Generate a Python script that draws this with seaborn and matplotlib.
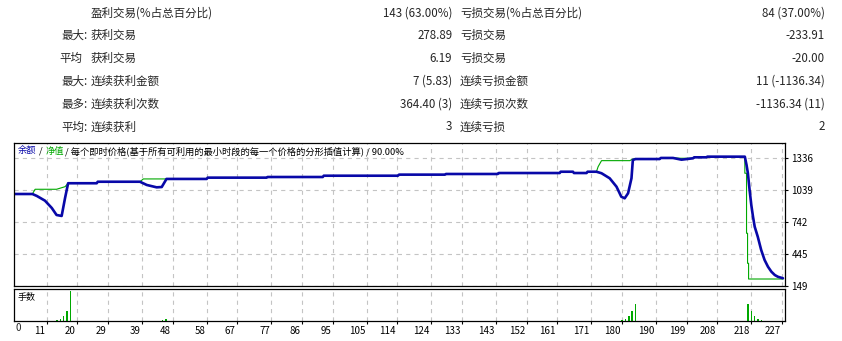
import matplotlib
matplotlib.use("Agg")
import matplotlib.pyplot as plt
import seaborn as sns
from matplotlib.transforms import ScaledTranslation

# ---------------- data ----------------
balance_x = [1.5, 6.8, 8.1, 10.5, 12.5, 13.9, 15.4, 16.4, 17.3, 25.7, 26.0, 38.4, 40.4, 43.3, 44.8,
             46.2, 58.0, 58.3, 75.6, 75.9, 92.1, 92.4, 114.2, 114.5, 128.0, 128.3, 143.5, 143.8,
             161.7, 162.0, 165.6, 165.9, 169.6, 169.9, 172.5, 174.0, 176.4, 178.4, 179.8, 180.8,
             181.8, 182.8, 183.2, 184.0, 191.1, 191.4, 195.0, 197.5, 200.9, 201.2, 204.8, 205.1,
             216.1, 216.6, 217.0, 217.5, 218.0, 218.5, 219.0, 219.9, 220.9, 221.9, 222.9, 223.9,
             224.9, 225.8, 227.3]
balance_y = [1004, 1004, 986, 942, 874, 809, 800, 967, 1104, 1104, 1118, 1118, 1088, 1066, 1069,
             1144, 1144, 1156, 1156, 1162, 1162, 1174, 1174, 1184, 1184, 1190, 1190, 1199,
             1199, 1211, 1211, 1199, 1199, 1211, 1211, 1197, 1150, 1072, 979, 964,
             1011, 1150, 1320, 1329, 1329, 1339, 1339, 1323, 1336, 1345, 1345, 1351,
             1351, 1274, 1197, 1041, 902, 793, 700, 607, 484, 391, 328, 282,
             251, 235, 221]

equity_x = [1.5, 6.8, 7.6, 13.9, 16.4, 17.3, 25.7, 26.0, 38.4, 39.4, 46.2, 58.0, 58.3, 75.6, 75.9,
            92.1, 92.4, 114.2, 114.5, 128.0, 128.3, 143.5, 143.8, 161.7, 162.0, 165.6, 165.9,
            169.6, 169.9, 172.5, 173.0, 174.0, 182.3, 183.2, 191.1, 191.4, 195.0, 197.5, 200.9,
            201.2, 204.8, 205.1, 216.1, 216.1, 216.6, 216.6, 216.9, 216.9, 217.2, 217.2, 227.3]
equity_y = [1004, 1004, 1048, 1048, 1072, 1104, 1104, 1118, 1118, 1144, 1144, 1144, 1156, 1156, 1162,
            1162, 1174, 1174, 1184, 1184, 1190, 1190, 1199, 1199, 1211, 1211, 1199,
            1199, 1211, 1211, 1258, 1314, 1314, 1329, 1329, 1339, 1339, 1336, 1336,
            1345, 1345, 1351, 1351, 1197, 1197, 639, 639, 360, 360, 214, 214]

lots_x = [14, 15, 16, 17, 18, 45, 46, 180, 181, 182, 183, 184, 217, 218, 219, 220, 221]
lots = [0.01, 0.02, 0.05, 0.10, 0.30, 0.01, 0.02, 0.01, 0.02, 0.05, 0.10, 0.17,
        0.17, 0.10, 0.05, 0.02, 0.01]

y_ticks = [149, 445, 742, 1039, 1336]
x_ticks = [11, 20, 29, 39, 48, 58, 67, 77, 86, 95, 105, 114, 124, 133, 143, 152, 161, 171,
           180, 190, 199, 208, 218, 227]

stat_prefix = ["", "最大:", "平均", "最大:", "最多:", "平均:"]
stat_label1 = ["盈利交易(%占总百分比)", "获利交易", "获利交易", "连续获利金额", "连续获利次数", "连续获利"]
stat_value1 = ["143 (63.00%)", "278.89", "6.19", "7 (5.83)", "364.40 (3)", "3"]
stat_label2 = ["亏损交易(%占总百分比)", "亏损交易", "亏损交易", "连续亏损金额", "连续亏损次数", "连续亏损"]
stat_value2 = ["84 (37.00%)", "-233.91", "-20.00", "11 (-1136.34)", "-1136.34 (11)", "2"]

caption_parts = ["余额", "/", "净值", "/ 每个即时价格(基于所有可利用的最小时段的每一个价格的分形插值计算) / 90.00%"]

# ---------------- style ----------------
sns.set_style("white")
plt.rcParams['font.family'] = ['Noto Sans CJK SC', 'DejaVu Sans']
plt.rcParams['lines.scale_dashes'] = False

W, H = 842, 341
fig = plt.figure(figsize=(W / 100, H / 100), dpi=100)
fig.patch.set_facecolor("white")

def fx(x):
    return x / W

def fy(y):
    return 1 - y / H

BLUE = "#0808a8"
GREEN = "#00a800"
GRID = "#c4c4c4"

ax = fig.add_axes([fx(14), fy(286), (785 - 14) / W, (286 - 143) / H])
axv = fig.add_axes([fx(14), fy(321), (785 - 14) / W, (321 - 288.5) / H], sharex=ax)

XL = (1.4, 227.9)

# equity then balance on top
sns.lineplot(x=equity_x, y=equity_y, ax=ax, sort=False, estimator=None, color=GREEN, linewidth=0.8)
sns.lineplot(x=balance_x, y=balance_y, ax=ax, sort=False, estimator=None, color=BLUE, linewidth=1.9)

sns.histplot(x=lots_x, weights=lots, discrete=True, shrink=0.45, ax=axv, color=GREEN,
             alpha=1, linewidth=0, element="bars")

for a in (ax, axv):
    a.set_xlim(*XL)
    a.set_xlabel("")
    a.set_ylabel("")
    for s in a.spines.values():
        s.set_visible(True)
        s.set_color("black")
        s.set_linewidth(0.9)
    a.set_xticks(x_ticks)
    a.grid(True, axis="x", color=GRID, linestyle=(0, (3, 3)), linewidth=0.8)
    a.set_axisbelow(True)

ax.set_ylim(149, 1478)
ax.set_yticks(y_ticks)
ax.yaxis.tick_right()
ax.tick_params(axis="y", right=True, left=False, direction="out", length=2.5, width=0.8,
               pad=2, labelsize=7, colors="black")
ax.tick_params(axis="x", bottom=False, labelbottom=False)
ax.grid(True, axis="y", color=GRID, linestyle=(0, (3, 3)), linewidth=0.8)

axv.set_ylim(0, 0.33)
axv.set_yticks([])
axv.tick_params(axis="x", bottom=True, direction="out", length=2, width=0.8, pad=1.5,
                labelsize=7, colors="black")
axv.set_xticklabels([str(v) for v in x_ticks])
off = ScaledTranslation(-1.5 / 100, 0, fig.dpi_scale_trans)
for lab in axv.get_xticklabels():
    lab.set_horizontalalignment("right")
    lab.set_transform(lab.get_transform() + off)
axv.text(0.002, -0.06, "0", transform=axv.transAxes, ha="left", va="top", fontsize=7)
axv.text(fx(17.3), fy(297.7), "", fontsize=6.5)
fig.text(fx(17.3), fy(297.7), "手数", fontsize=6.5, va="center", ha="left", color="black")

# caption in chart
cap_x = [17.3, 39.0, 45.7, 65.0]
cap_c = [BLUE, "black", GREEN, "black"]
for s, xx, c in zip(caption_parts, cap_x, cap_c):
    fig.text(fx(xx), fy(151), s, fontsize=6.7, color=c, va="center", ha="left")

# stats table
row_y = [13.3, 35.7, 58.3, 81.0, 104.3, 127.0]
for i, yy in enumerate(row_y):
    if stat_prefix[i]:
        px_right = 82 if stat_prefix[i] == "平均" else 88
        fig.text(fx(px_right), fy(yy), stat_prefix[i], fontsize=8.3, ha="right", va="center")
    fig.text(fx(90.7), fy(yy), stat_label1[i], fontsize=8.3, ha="left", va="center")
    fig.text(fx(452.3), fy(yy), stat_value1[i], fontsize=8.3, ha="right", va="center")
    fig.text(fx(460), fy(yy), stat_label2[i], fontsize=8.3, ha="left", va="center")
    fig.text(fx(825), fy(yy), stat_value2[i], fontsize=8.3, ha="right", va="center")

fig.savefig("out.png", dpi=100)
